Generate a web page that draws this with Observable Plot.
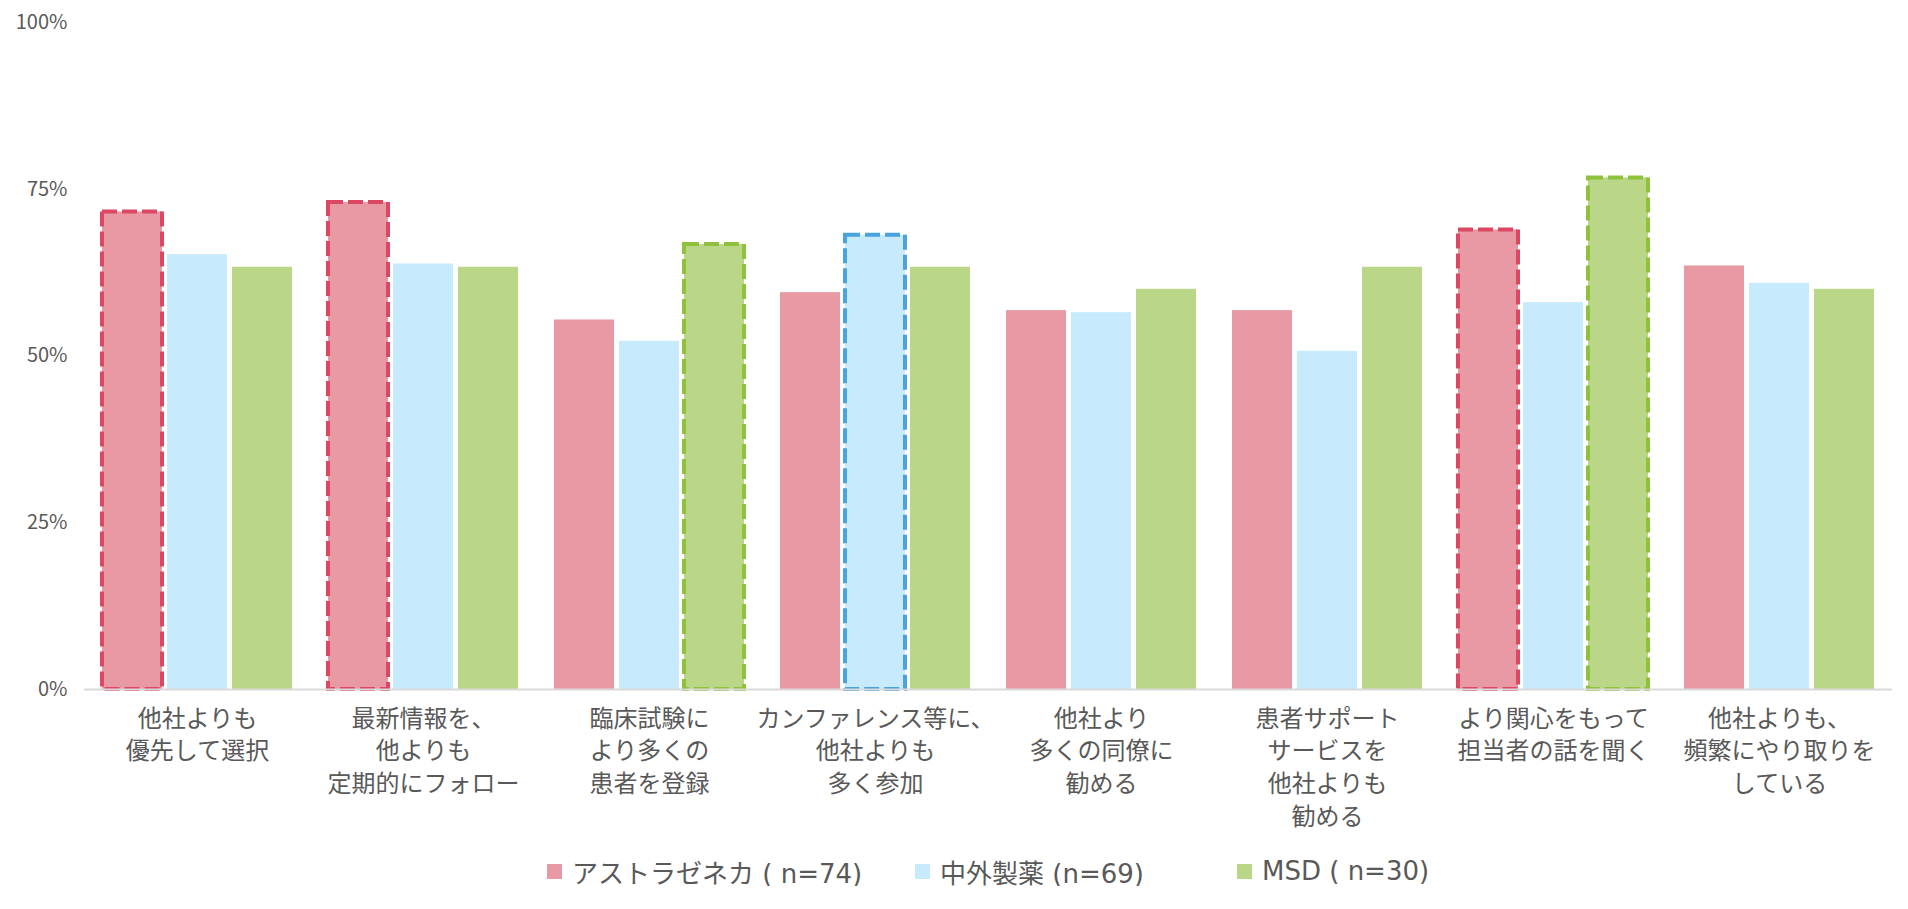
<!DOCTYPE html>
<html><head><meta charset="utf-8">
<script src="https://cdn.jsdelivr.net/npm/d3@7"></script>
<script src="https://cdn.jsdelivr.net/npm/@observablehq/plot@0.6"></script>
<style>
body{margin:0;background:#fff;font-family:"Noto Sans CJK JP",sans-serif;}
#chart{width:1908px;}
.legend{display:flex;padding-left:547px;margin-top:16px;height:30px;align-items:center;font-family:"DejaVu Sans","Noto Sans CJK JP",sans-serif;font-size:26px;color:#595959;}
.item{display:flex;align-items:center;white-space:nowrap;}
.sw{width:15px;height:15px;margin-right:10px;flex:none;}
</style></head><body><div id="chart"></div><div class="legend" id="legend"></div>
<script>
const categories = [
  "他社よりも\n優先して選択",
  "最新情報を、\n他よりも\n定期的にフォロー",
  "臨床試験に\nより多くの\n患者を登録",
  "カンファレンス等に、\n他社よりも\n多く参加",
  "他社より\n多くの同僚に\n勧める",
  "患者サポート\nサービスを\n他社よりも\n勧める",
  "より関心をもって\n担当者の話を聞く",
  "他社よりも、\n頻繁にやり取りを\nしている"
];
const series = ["アストラゼネカ ( n=74)", "中外製薬 (n=69)", "MSD ( n=30)"];
const azValues = [71.6, 73.0, 55.4, 59.5, 56.8, 56.8, 68.9, 63.5];
const chugaiValues = [65.2, 63.8, 52.2, 68.1, 56.5, 50.7, 58.0, 60.9];
const msdValues = [63.3, 63.3, 66.7, 63.3, 60.0, 63.3, 76.7, 60.0];
const azHighlight = [1, 1, 0, 0, 0, 0, 1, 0];
const chugaiHighlight = [0, 0, 0, 1, 0, 0, 0, 0];
const msdHighlight = [0, 0, 1, 0, 0, 0, 1, 0];
const yTicks = [0, 25, 50, 75, 100];
const fillColors = ["#E899A4", "#C7EBFD", "#BAD687"];
const strokeColors = ["#DC4864", "#4AA3DF", "#90C13C"];

const valueSets = [azValues, chugaiValues, msdValues];
const hiSets = [azHighlight, chugaiHighlight, msdHighlight];
const data = [];
categories.forEach((c, i) => series.forEach((s, j) => data.push({category: c, series: s, value: valueSets[j][i], hi: hiSets[j][i]})));

const outlineMarks = series.map((s, j) => Plot.barY(data.filter(d => d.series === s && d.hi), {
  fx: "category", x: "series", y: "value", fill: "none",
  stroke: strokeColors[j], strokeWidth: 4, strokeDasharray: "15,5"
}));

const chart = Plot.plot({
  width: 1908, height: 840,
  marginLeft: 84, marginRight: 16, marginTop: 22, marginBottom: 151,
  style: {fontFamily: '"Noto Sans CJK JP", sans-serif', color: "#595959", background: "white", overflow: "visible"},
  fx: {domain: categories, paddingInner: 0.16, paddingOuter: 0.08, label: null},
  x: {domain: series, paddingInner: 0.077, paddingOuter: 0, axis: null},
  y: {domain: [0, 100], axis: null},
  color: {domain: series, range: fillColors},
  marks: [
    Plot.axisY({ticks: yTicks, tickFormat: d => d + "%", tickSize: 0, tickPadding: 35, fontSize: 20, label: null}),
    Plot.barY(data, {fx: "category", x: "series", y: "value", fill: "series"}),
    ...outlineMarks,
    Plot.ruleY([0], {stroke: "#D9D9D9", strokeWidth: 2, insetLeft: -18, insetRight: -18}),
    Plot.axisFx({anchor: "bottom", tickSize: 0, tickPadding: 14, fontSize: 24, lineHeight: 1.36, label: null})
  ]
});
document.getElementById("chart").appendChild(chart);

const legendWidths = [368, 322, 280];
const legend = document.getElementById("legend");
series.forEach((s, j) => {
  const item = document.createElement("div");
  item.className = "item";
  item.style.width = legendWidths[j] + "px";
  const sw = document.createElement("div");
  sw.className = "sw";
  sw.style.background = fillColors[j];
  const t = document.createElement("span");
  t.textContent = s;
  item.appendChild(sw); item.appendChild(t);
  legend.appendChild(item);
});
</script>
</body></html>
